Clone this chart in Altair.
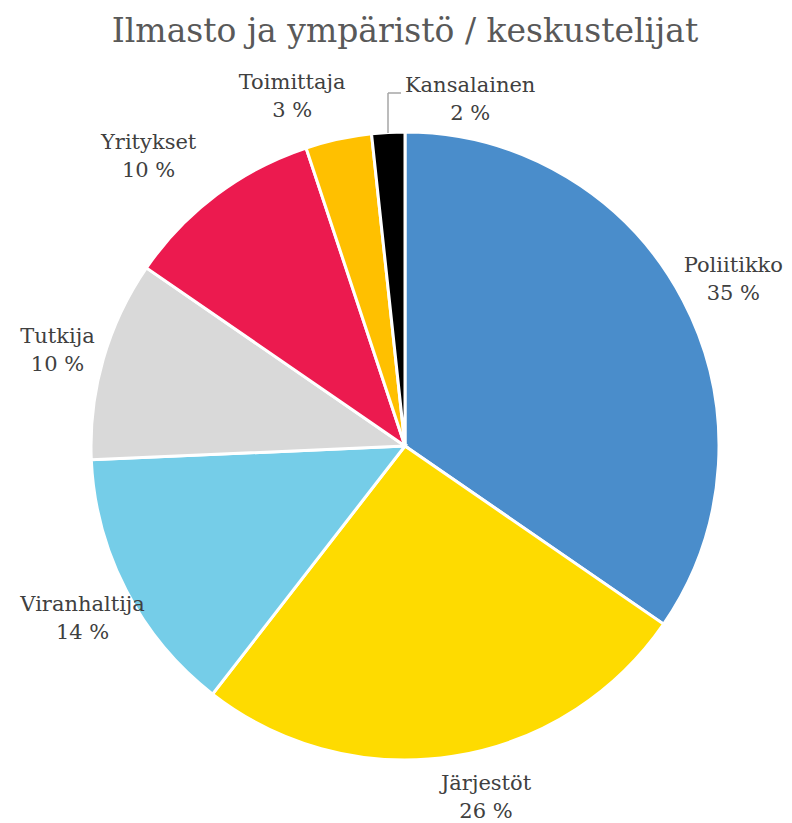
import altair as alt
import pandas as pd

categories = ["Poliitikko", "Järjestöt", "Viranhaltija", "Tutkija", "Yritykset", "Toimittaja", "Kansalainen"]
values = [34.6, 25.9, 13.8, 10.3, 10.3, 3.4, 1.7]
colors = ["#4A8DCB", "#FEDB00", "#75CDE8", "#D9D9D9", "#EC1A4F", "#FFC000", "#000000"]

df = pd.DataFrame({"cat": categories, "value": values, "idx": list(range(len(categories)))})
total = sum(values)

FONT = "DejaVu Serif"
CX, CY, R = 397, 378, 314

base = alt.Chart(df).transform_window(
    cum="sum(value)", sort=[alt.SortField("idx")]
).transform_calculate(
    start="datum.cum - datum.value",
    mid="datum.cum - datum.value / 2",
    label="datum.cat + '\\n' + format(datum.value, '.0f') + ' %'",
)

theta_scale = alt.Scale(domain=[0, total])

arcs = base.mark_arc(outerRadius=R, stroke="white", strokeWidth=3).encode(
    theta=alt.Theta("start:Q", scale=theta_scale),
    theta2="cum:Q",
    color=alt.Color("cat:N", scale=alt.Scale(domain=categories, range=colors), legend=None),
    x=alt.value(CX),
    y=alt.value(CY),
)

def label_layer(cats, dx=0, dy=0):
    flt = " || ".join([f"datum.cat == '{c}'" for c in cats])
    return base.transform_filter(flt).mark_text(
        font=FONT, fontSize=21, color="#404040", lineBreak="\n", lineHeight=28,
        align="center", baseline="middle", radius=372, dx=dx, dy=dy,
    ).encode(
        theta=alt.Theta("mid:Q", scale=theta_scale),
        text="label:N",
        x=alt.value(CX),
        y=alt.value(CY),
    )

labels = [
    label_layer(["Poliitikko"], dx=-1, dy=-7),
    label_layer(["Tutkija"], dx=10, dy=-6),
    label_layer(["Viranhaltija"], dx=8, dy=-12),
    label_layer(["Järjestöt"], dx=24, dy=-30),
    label_layer(["Yritykset"], dx=-33, dy=-6),
    label_layer(["Toimittaja"], dx=-34, dy=1),
    label_layer(["Kansalainen"], dx=85, dy=11),
]

one = alt.Chart(alt.Data(values=[{"a": 1}]))
leader_v = one.mark_rule(color="#A6A6A6", strokeWidth=1.5).encode(
    x=alt.value(380), y=alt.value(25), y2=alt.value(65))
leader_h = one.mark_rule(color="#A6A6A6", strokeWidth=1.5).encode(
    x=alt.value(380), x2=alt.value(393), y=alt.value(25))

chart = alt.layer(arcs, *labels, leader_v, leader_h).properties(
    width=776,
    height=755,
    autosize="none",
    padding={"left": 0, "top": 60, "right": 0, "bottom": 0},
    title=alt.Title(
        "Ilmasto ja ympäristö / keskustelijat",
        font=FONT, fontSize=33, fontWeight="normal", color="#595959",
        anchor="middle", dx=9, offset=19,
    ),
).configure_view(stroke=None).configure_title(font=FONT, fontWeight="normal")

chart.save("out.html", embed_options={"renderer": "svg", "actions": False})
